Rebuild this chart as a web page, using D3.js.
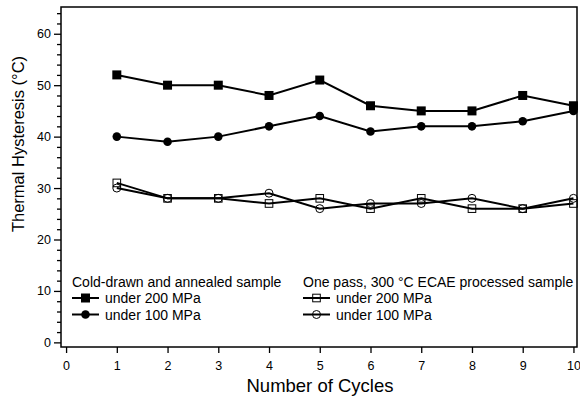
<!DOCTYPE html>
<html>
<head>
<meta charset="utf-8">
<script src="https://cdn.jsdelivr.net/npm/d3@7"></script>
<style>
  body { margin: 0; background: #fff; }
  text { font-family: "Liberation Sans", Arial, sans-serif; fill: #000; }
</style>
</head>
<body>
<script>
// data
var cycles = [1, 2, 3, 4, 5, 6, 7, 8, 9, 10];
var cold200 = [52, 50, 50, 48, 51, 46, 45, 45, 48, 46];
var cold100 = [40, 39, 40, 42, 44, 41, 42, 42, 43, 45];
var ecae200 = [31, 28, 28, 27, 28, 26, 28, 26, 26, 27];
var ecae100 = [30, 28, 28, 29, 26, 27, 27, 28, 26, 28];
var xTicks = [0, 1, 2, 3, 4, 5, 6, 7, 8, 9, 10];
var yTicks = [0, 10, 20, 30, 40, 50, 60];

var w = 580, h = 399;
var padL = 61, padR = 577, padT = 7, padB = 347;

var svg = d3.select('body').append('svg')
  .attr('width', w)
  .attr('height', h);

// scales
var xScale = d3.scaleLinear().domain([-0.1, 10.07]).range([padL, padR]);
var yScale = d3.scaleLinear().domain([-0.9, 65.2]).range([padB, padT]);

// axes
var xAxis = d3.axisBottom(xScale).tickValues(xTicks).tickSize(6).tickSizeOuter(0).tickPadding(8);
var yAxis = d3.axisLeft(yScale).tickValues(yTicks).tickSize(7).tickSizeOuter(0).tickPadding(3);
var yMinor = d3.axisLeft(yScale).tickValues(d3.range(0, 66, 2).filter(function(v) { return v % 10 != 0; }))
  .tickSize(4).tickFormat('').tickSizeOuter(0);

var gx = svg.append('g').attr('transform', 'translate(0,' + padB + ')').call(xAxis);
var gy = svg.append('g').attr('transform', 'translate(' + padL + ',0)').call(yAxis);
var gm = svg.append('g').attr('transform', 'translate(' + padL + ',0)').call(yMinor);

[gx, gy, gm].forEach(function(g) {
  g.select('.domain').remove();
  g.selectAll('line').attr('stroke', '#000').attr('stroke-width', 1.3);
  g.selectAll('text').style('font-size', '12.5px').attr('fill', '#000');
});

// frame
svg.append('rect')
  .attr('x', padL).attr('y', padT)
  .attr('width', padR - padL).attr('height', padB - padT)
  .attr('fill', 'none').attr('stroke', '#000').attr('stroke-width', 1.5);

// axis titles
svg.append('text')
  .attr('x', 320).attr('y', 392)
  .attr('text-anchor', 'middle')
  .style('font-size', '18.5px')
  .text('Number of Cycles');

svg.append('text')
  .attr('transform', 'translate(24,144) rotate(-90)')
  .attr('text-anchor', 'middle')
  .style('font-size', '16.5px')
  .text('Thermal Hysteresis (°C)');

var line = d3.line()
  .x(function(d, i) { return xScale(cycles[i]); })
  .y(function(d) { return yScale(d); });

function drawMarker(g, type, x, y) {
  if (type == 'sqFill') {
    g.append('rect').attr('x', x - 4.5).attr('y', y - 4.5).attr('width', 9).attr('height', 9)
      .attr('fill', '#000');
  } else if (type == 'cirFill') {
    g.append('circle').attr('cx', x).attr('cy', y).attr('r', 4.3).attr('fill', '#000');
  } else if (type == 'sqOpen') {
    g.append('rect').attr('x', x - 3.8).attr('y', y - 3.8).attr('width', 7.6).attr('height', 7.6)
      .attr('fill', 'none').attr('stroke', '#000').attr('stroke-width', 1);
  } else {
    g.append('circle').attr('cx', x).attr('cy', y).attr('r', 4).attr('fill', 'none')
      .attr('stroke', '#000').attr('stroke-width', 1);
  }
}

var series = [
  { values: ecae100, type: 'cirOpen' },
  { values: ecae200, type: 'sqOpen' },
  { values: cold100, type: 'cirFill' },
  { values: cold200, type: 'sqFill' }
];

series.forEach(function(s) {
  var g = svg.append('g');
  g.append('path')
    .datum(s.values)
    .attr('d', line)
    .attr('fill', 'none')
    .attr('stroke', '#000')
    .attr('stroke-width', 2);
  s.values.forEach(function(v, i) {
    drawMarker(g, s.type, xScale(cycles[i]), yScale(v));
  });
});

// legends
var legends = [
  { x: 72, title: 'Cold-drawn and annealed sample', items: [['sqFill', 'under 200 MPa'], ['cirFill', 'under 100 MPa']] },
  { x: 303, title: 'One pass, 300 °C ECAE processed sample', items: [['sqOpen', 'under 200 MPa'], ['cirOpen', 'under 100 MPa']] }
];

legends.forEach(function(l) {
  var g = svg.append('g');
  g.append('text').attr('x', l.x).attr('y', 287).style('font-size', '14px').text(l.title);
  l.items.forEach(function(it, i) {
    var y = 298 + i * 16.5;
    g.append('line').attr('x1', l.x).attr('x2', l.x + 27).attr('y1', y).attr('y2', y)
      .attr('stroke', '#000').attr('stroke-width', 2);
    drawMarker(g, it[0], l.x + 13.5, y);
    g.append('text').attr('x', l.x + 33).attr('y', y + 5).style('font-size', '14px').text(it[1]);
  });
});
</script>
</body>
</html>
